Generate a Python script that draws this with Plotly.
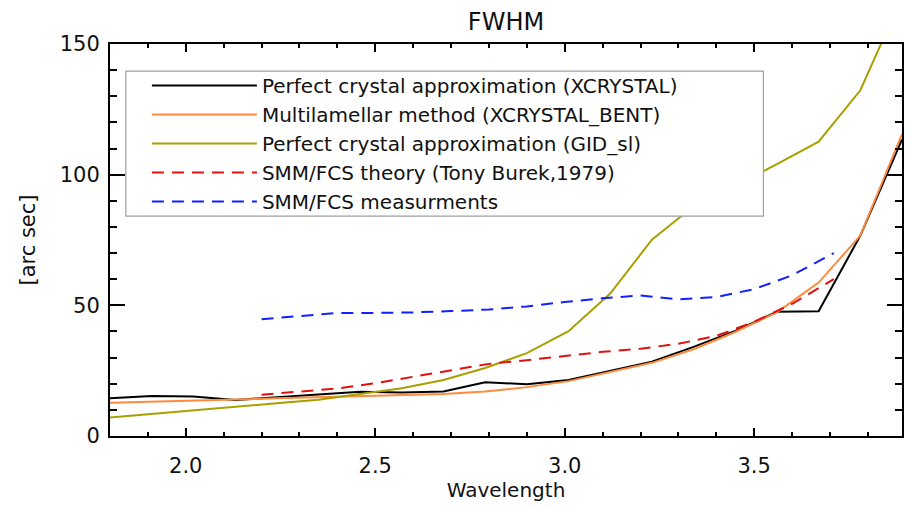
import plotly.graph_objects as go

# Wavelength grid for the simulated curves
wl_sim = [1.80, 1.91, 2.02, 2.13, 2.24, 2.35, 2.46, 2.57, 2.68, 2.79,
          2.90, 3.01, 3.12, 3.23, 3.34, 3.45, 3.56, 3.67, 3.78, 3.89]
xcrystal = [14.4, 15.3, 15.1, 13.8, 14.8, 15.8, 16.9, 16.6, 17.0, 20.6,
            19.8, 21.4, 24.9, 28.4, 34.1, 40.2, 47.5, 47.7, 76.7, 113.5]
xcrystal_bent = [12.7, 13.2, 13.6, 14.0, 14.4, 14.8, 15.3, 15.6, 16.1, 17.0,
                 18.7, 21.0, 24.5, 28.0, 33.2, 39.8, 47.3, 58.7, 76.7, 115.5]
gid_sl = [7.1, 8.4, 9.8, 11.2, 12.5, 13.9, 16.0, 18.3, 21.4, 26.0,
          31.7, 40.1, 54.5, 75.1, 87.9, 96.0, 104.0, 112.6, 132.3, 168.0]

# SMM/FCS wavelengths
wl_smm = [2.20, 2.30, 2.40, 2.50, 2.60, 2.70, 2.80, 2.90,
          3.00, 3.10, 3.20, 3.30, 3.40, 3.50, 3.60, 3.71]
smm_theory = [15.8, 17.0, 18.2, 20.2, 22.7, 25.2, 27.6, 29.0,
              30.7, 32.2, 33.4, 35.3, 38.3, 43.7, 50.6, 60.0]
smm_meas = [44.7, 46.0, 47.1, 47.1, 47.3, 47.8, 48.4, 49.6,
            51.3, 52.7, 53.8, 52.3, 53.2, 56.2, 61.5, 70.0]

names = ["Perfect crystal approximation (XCRYSTAL)",
         "Multilamellar method (XCRYSTAL_BENT)",
         "Perfect crystal approximation (GID_sl)",
         "SMM/FCS theory (Tony Burek,1979)",
         "SMM/FCS measurments"]

FONT = "DejaVu Sans"

fig = go.Figure()
fig.add_trace(go.Scatter(x=wl_sim, y=xcrystal, mode="lines", name=names[0],
                         line=dict(color="#000000", width=2)))
fig.add_trace(go.Scatter(x=wl_sim, y=xcrystal_bent, mode="lines", name=names[1],
                         line=dict(color="#ff8a3d", width=2)))
fig.add_trace(go.Scatter(x=wl_sim, y=gid_sl, mode="lines", name=names[2],
                         line=dict(color="#a8a000", width=2)))
fig.add_trace(go.Scatter(x=wl_smm, y=smm_theory, mode="lines", name=names[3],
                         line=dict(color="#e01010", width=2, dash="12px,8px")))
fig.add_trace(go.Scatter(x=wl_smm, y=smm_meas, mode="lines", name=names[4],
                         line=dict(color="#1020ff", width=2, dash="12px,8px")))

axis_common = dict(
    showgrid=False, zeroline=False, showline=True, linecolor="black", linewidth=2,
    mirror="ticks", ticks="inside", tickcolor="black", tickwidth=1.5,
    tickfont=dict(family=FONT, size=21, color="#111"),
)

# legend frame (white box hiding the curves behind it), in plot-area fractions
fig.add_shape(type="rect", xref="paper", yref="paper",
              x0=0.020, x1=0.825, y0=0.561, y1=0.931,
              fillcolor="white", line=dict(color="#a0a0a0", width=1.2),
              layer="above")

fig.update_layout(
    width=912, height=507,
    margin=dict(l=110, r=8, t=44, b=71),
    paper_bgcolor="white", plot_bgcolor="white",
    title=dict(text="FWHM", x=0.5, xref="paper", y=1 - 22 / 507, yref="container",
               xanchor="center", yanchor="middle",
               font=dict(family=FONT, size=24, color="#111")),
    xaxis=dict(range=[1.80, 3.89], dtick=0.5, tick0=0, tickformat=".1f", ticklen=8,
               ticklabelstandoff=10,
               minor=dict(ticks="inside", dtick=0.1, tick0=0, ticklen=4,
                          tickcolor="black", tickwidth=1.5),
               title=dict(text="Wavelength", standoff=6,
                          font=dict(family=FONT, size=20, color="#111")),
               **axis_common),
    yaxis=dict(range=[0, 150], dtick=50, tick0=0, ticklen=15, ticklabelstandoff=4,
               minor=dict(ticks="inside", dtick=10, tick0=0, ticklen=7,
                          tickcolor="black", tickwidth=1.5),
               title=dict(text="[arc sec]", standoff=18,
                          font=dict(family=FONT, size=21, color="#111")),
               **axis_common),
    legend=dict(x=0.0466, y=0.944, xanchor="left", yanchor="top",
                bgcolor="rgba(0,0,0,0)", borderwidth=0,
                itemwidth=105, tracegroupgap=0,
                font=dict(family=FONT, size=20, color="#111")),
    showlegend=True,
)

fig.write_html("out.html")
